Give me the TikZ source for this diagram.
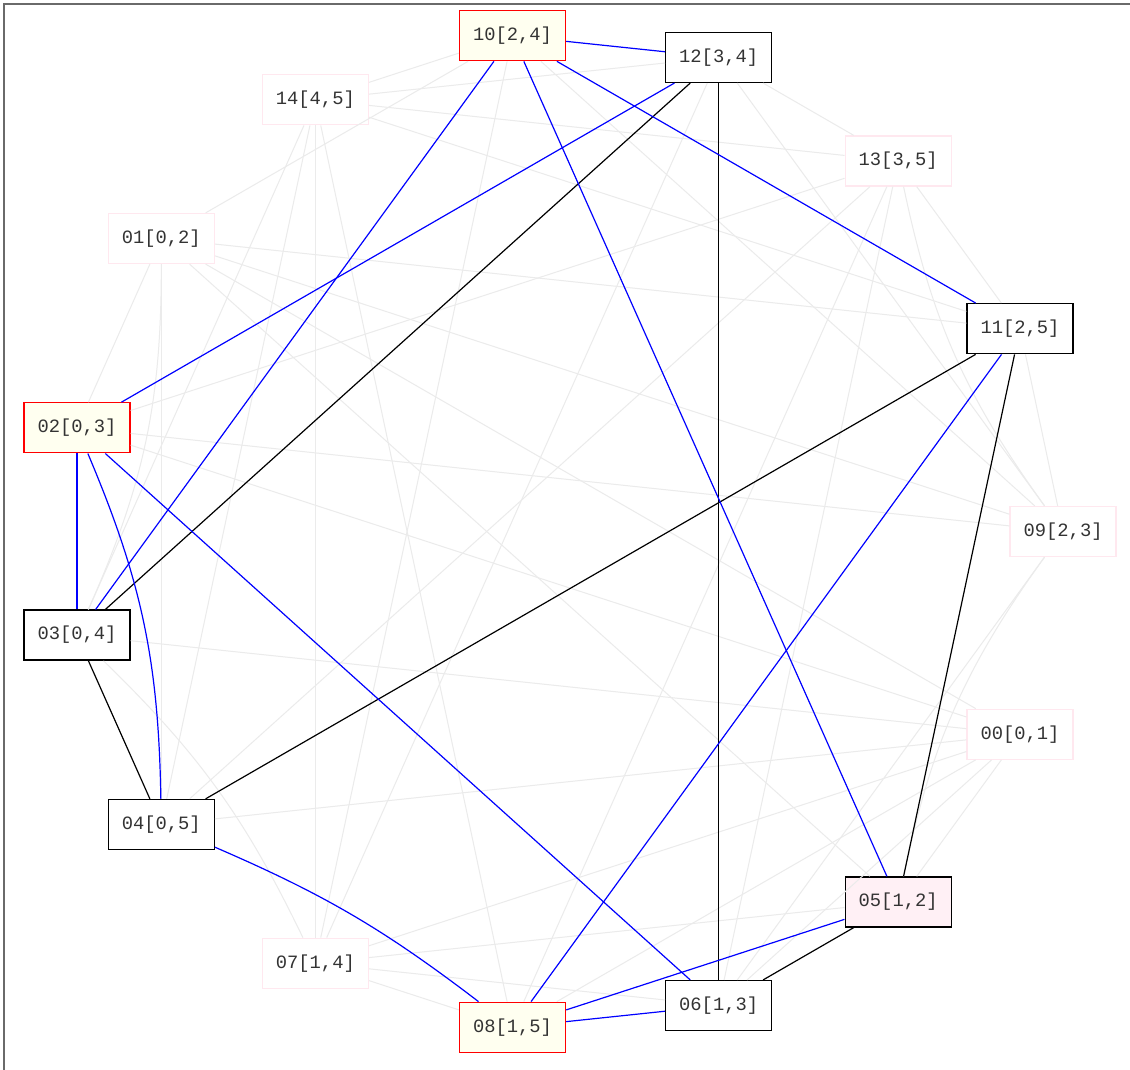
\documentclass[tikz,border=0pt]{standalone}
\usepackage{fontspec}
\setmonofont{Liberation Mono}
\definecolor{edgegrey}{HTML}{EBEBEB}
\definecolor{pinkline}{HTML}{FFE8EF}
\definecolor{pinkfill}{HTML}{FFF0F5}
\definecolor{ivoryfill}{HTML}{FFFFF0}
\definecolor{txt}{HTML}{333333}
\definecolor{framegrey}{HTML}{6A6A6A}
\definecolor{blueedge}{HTML}{0000FF}
\tikzset{
  gnode/.style={rectangle, minimum width=106pt, minimum height=50pt, inner sep=0pt,
    line width=1.3pt, text=txt, font=\ttfamily\fontsize{18.8}{20}\selectfont},
  faintnode/.style={gnode, draw=pinkline, fill=white},
  plainnode/.style={gnode, draw=black, fill=white},
  marknode/.style={gnode, draw=red, fill=ivoryfill},
  pinknode/.style={gnode, draw=black, fill=pinkfill},
  gedge/.style={draw=edgegrey, line width=1pt},
  bedge/.style={draw=blueedge, line width=1.2pt},
  kedge/.style={draw=black, line width=1.2pt}
}
\begin{document}
\begin{tikzpicture}[x=1pt,y=1pt]
\useasboundingbox (0,0) rectangle (1130,1070);
\fill[white] (0,0) rectangle (1130,1070);
\draw[framegrey, line width=1.6pt] (4,0) -- (4,1066) -- (1130,1066);
\begin{scope}[shift={(564.6,538.5)}]
\node[faintnode] (n09) at (0:498.5pt)   {09[2,3]};
\node[plainnode] (n11) at (24:498.5pt)  {11[2,5]};
\node[faintnode] (n13) at (48:498.5pt)  {13[3,5]};
\node[plainnode] (n12) at (72:498.5pt)  {12[3,4]};
\node[marknode]  (n10) at (96:498.5pt)  {10[2,4]};
\node[faintnode] (n14) at (120:498.5pt) {14[4,5]};
\node[faintnode] (n01) at (144:498.5pt) {01[0,2]};
\node[marknode]  (n02) at (168:498.5pt) {02[0,3]};
\node[plainnode] (n03) at (192:498.5pt) {03[0,4]};
\node[plainnode] (n04) at (216:498.5pt) {04[0,5]};
\node[faintnode] (n07) at (240:498.5pt) {07[1,4]};
\node[marknode]  (n08) at (264:498.5pt) {08[1,5]};
\node[plainnode] (n06) at (288:498.5pt) {06[1,3]};
\node[pinknode]  (n05) at (312:498.5pt) {05[1,2]};
\node[faintnode] (n00) at (336:498.5pt) {00[0,1]};
\end{scope}
% faint edges
\foreach \a/\b in {00/01,00/02,00/03,00/04,01/02,01/04,
                   00/05,00/06,00/07,00/08,05/07,06/07,07/08,
                   01/05,01/09,01/10,01/11,09/10,09/11,
                   02/09,02/13,06/09,06/13,09/12,12/13,
                   03/14,07/10,07/12,07/14,10/14,12/14,
                   04/13,04/14,08/13,08/14,11/13,11/14,13/14}
  \draw[gedge] (n\a) -- (n\b);
\draw[gedge] (n01) to[bend left=12] (n03);
\draw[gedge] (n03) to[bend left=10] (n07);
\draw[gedge] (n05) to[bend left=12] (n09);
\draw[gedge] (n09) to[bend left=12] (n13);
% black edges
\foreach \a/\b in {03/12,06/12,04/11,05/11,03/04,05/06}
  \draw[kedge] (n\a) -- (n\b);
% blue edges
\foreach \a/\b in {10/12,03/10,05/10,10/11,02/12,02/03,02/06,08/11,05/08,06/08}
  \draw[bedge] (n\a) -- (n\b);
\draw[bedge] (n02) to[bend left=11] (n04);
\draw[bedge] (n04) to[bend left=7] (n08);
\end{tikzpicture}
\end{document}
